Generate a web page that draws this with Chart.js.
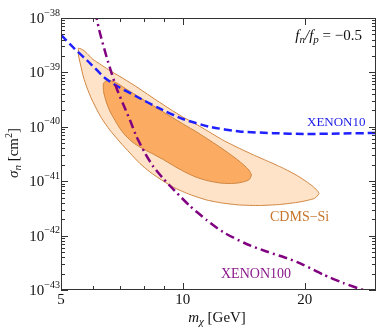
<!DOCTYPE html>
<html>
<head>
<meta charset="utf-8">
<script src="https://cdn.jsdelivr.net/npm/chart.js@4.4.1/dist/chart.umd.min.js"></script>
<style>
  html, body { margin: 0; padding: 0; background: #fff; }
</style>
</head>
<body>
<canvas id="chart" width="379" height="331"></canvas>
<script>
// === DATOS (m en GeV, sigma en cm^2) ===
const xenon10Mass = [5.0, 5.41, 5.90, 6.42, 6.91, 7.70, 8.68, 10.0, 11.66, 13.8, 16.7, 20.2, 24.4, 30.0];
const xenon10Sigma = [4.87e-39, 2.69e-39, 1.47e-39, 7.89e-40, 5.50e-40, 3.57e-40, 2.25e-40, 1.39e-40,
  1.00e-40, 8.20e-41, 7.65e-41, 7.38e-41, 7.53e-41, 7.69e-41];

const xenon100Mass = [6.07, 6.12, 6.24, 6.48, 6.67, 6.86, 7.11, 7.40, 7.69, 8.06, 8.45, 8.94, 9.56,
  10.41, 11.44, 12.57, 14.36, 16.09, 18.03, 19.77, 22.19, 24.86, 28.12, 30.63];
const xenon100Sigma = [1.32e-38, 1.0e-38, 5.30e-39, 1.92e-39, 9.63e-40, 5.10e-40, 2.68e-40, 1.33e-40,
  6.49e-41, 3.30e-41, 1.86e-41, 1.12e-41, 6.60e-42, 3.50e-42, 1.94e-42, 1.16e-42, 7.01e-43,
  5.10e-43, 3.87e-43, 2.94e-43, 1.93e-43, 1.35e-43, 9.79e-44, 7.92e-44];

// contorno exterior CDMS-Si (borde superior y vuelta por el inferior)
const cdmsOuterMass = [5.52, 5.57, 5.67, 5.80, 5.96, 6.13, 6.35, 6.60, 6.99, 7.53, 8.06, 8.63, 9.29,
  10.0, 10.71, 11.46, 12.55, 13.82, 15.05, 16.39, 17.85, 19.22, 20.34, 21.17, 21.69,
  21.17, 19.44, 17.35, 15.49, 13.82, 12.48, 11.46, 10.41, 9.56, 8.93, 8.29, 7.83, 7.40, 6.99,
  6.60, 6.30, 6.12, 5.95, 5.80, 5.68, 5.59, 5.52, 5.52];
const cdmsOuterSigma = [2.77e-39, 2.75e-39, 2.58e-39, 2.23e-39, 1.80e-39, 1.55e-39, 1.31e-39, 1.08e-39,
  8.41e-40, 5.99e-40, 4.27e-40, 3.04e-40, 2.12e-40, 1.51e-40, 1.15e-40, 8.55e-41, 5.72e-41,
  3.99e-41, 2.97e-41, 2.25e-41, 1.68e-41, 1.25e-41, 9.47e-42, 7.50e-42, 5.99e-42,
  4.85e-42, 4.15e-42, 3.73e-42, 3.58e-42, 3.65e-42, 3.98e-42, 4.51e-42, 5.69e-42, 7.50e-42,
  1.01e-41, 1.48e-41, 2.12e-41, 3.30e-41, 5.26e-41, 8.74e-41, 1.43e-40, 2.12e-40, 3.24e-40,
  5.17e-40, 8.23e-40, 1.37e-39, 2.09e-39, 2.77e-39];

// contorno interior CDMS-Si
const cdmsInnerMass = [6.36, 6.42, 6.53, 6.68, 6.87, 7.15, 7.48, 7.83, 8.20, 8.63, 9.03, 9.56, 10.11,
  10.77, 11.46, 12.34, 13.06, 13.67, 14.14, 14.55, 14.76, 14.59, 14.22, 13.67, 13.06, 12.34,
  11.46, 10.77, 10.11, 9.56, 9.03, 8.53, 8.20, 7.83, 7.53, 7.23, 6.99, 6.80, 6.60, 6.47, 6.38,
  6.36, 6.36];
const cdmsInnerSigma = [6.12e-40, 6.80e-40, 7.10e-40, 6.95e-40, 6.39e-40, 5.28e-40, 4.27e-40, 3.46e-40,
  2.80e-40, 2.22e-40, 1.79e-40, 1.39e-40, 1.08e-40, 8.20e-41, 6.10e-41, 4.25e-41, 3.16e-41,
  2.45e-41, 1.99e-41, 1.61e-41, 1.30e-41, 1.07e-41, 9.87e-42, 9.27e-42, 9.07e-42, 9.27e-42,
  1.03e-41, 1.19e-41, 1.48e-41, 1.86e-41, 2.40e-41, 3.03e-41, 3.52e-41, 4.25e-41, 5.15e-41,
  6.78e-41, 9.31e-41, 1.31e-40, 1.95e-40, 2.86e-40, 4.18e-40, 5.17e-40, 6.12e-40];

const xTickValues = [5, 10, 20];
const xMinorTicks = [6, 7, 8, 9];
const yTickExponents = [-38, -39, -40, -41, -42, -43];

const SERIF = '"Liberation Serif", "DejaVu Serif", serif';

const pts = (m, s) => m.map((v, i) => ({ x: v, y: s[i] }));

// === MARCO, TICKS Y TEXTOS ===
const framePlugin = {
  id: "frame",
  afterDraw(chart) {
    const { ctx, chartArea: a, scales: { x, y } } = chart;
    ctx.save();
    ctx.strokeStyle = "#333";
    ctx.lineWidth = 1;
    ctx.strokeRect(a.left + 0.5, a.top + 0.5, a.right - a.left - 1, a.bottom - a.top - 1);

    const line = (x1, y1, x2, y2) => {
      ctx.beginPath(); ctx.moveTo(x1, y1); ctx.lineTo(x2, y2); ctx.stroke();
    };
    const xTick = (v, len) => {
      const px = Math.round(x.getPixelForValue(v)) + 0.5;
      line(px, a.bottom, px, a.bottom - len);
      line(px, a.top, px, a.top + len);
    };
    const yTick = (v, len) => {
      const py = Math.round(y.getPixelForValue(v)) + 0.5;
      line(a.left, py, a.left + len, py);
      line(a.right, py, a.right - len, py);
    };
    xTickValues.forEach((v) => xTick(v, 7));
    xMinorTicks.forEach((v) => xTick(v, 4));
    yTickExponents.forEach((e) => yTick(Math.pow(10, e), 7));
    yTickExponents.slice(1).forEach((e) => {
      for (let k = 2; k <= 9; k++) yTick(k * Math.pow(10, e), 4);
    });

    ctx.fillStyle = "#111";
    // etiquetas eje y
    yTickExponents.forEach((e) => {
      const py = y.getPixelForValue(Math.pow(10, e));
      const expText = "\u2212" + Math.abs(e);
      ctx.textAlign = "right";
      ctx.textBaseline = "middle";
      ctx.font = "10px " + SERIF;
      const ew = ctx.measureText(expText).width;
      ctx.fillText(expText, 60, py - 5);
      ctx.font = "15px " + SERIF;
      ctx.fillText("10", 60 - ew, py + 1);
    });
    // etiquetas eje x
    ctx.textAlign = "center";
    ctx.font = "15px " + SERIF;
    xTickValues.forEach((v) => ctx.fillText(String(v), x.getPixelForValue(v), 300));

    // texto con partes (fuente, texto, dy)
    const runs = (parts, x0, y0, color) => {
      ctx.textAlign = "left";
      ctx.textBaseline = "alphabetic";
      ctx.fillStyle = color || "#111";
      let cx = x0;
      parts.forEach(([font, t, dy]) => {
        ctx.font = font + " " + SERIF;
        ctx.fillText(t, cx, y0 + (dy || 0));
        cx += ctx.measureText(t).width;
      });
    };
    const width = (parts) => parts.reduce((w, [font, t]) => {
      ctx.font = font + " " + SERIF; return w + ctx.measureText(t).width;
    }, 0);

    // titulo eje x
    const xTitle = [["italic 15px", "m"], ["italic 11px", "\u03c7", 3], ["15px", " [GeV]"]];
    runs(xTitle, 217 - width(xTitle) / 2, 322);

    // titulo eje y
    const yTitle = [["italic 15px", "\u03c3"], ["italic 11px", "n", 3], ["15px", " [cm"], ["10px", "2", -6], ["15px", "]"]];
    ctx.save();
    ctx.translate(18, 153);
    ctx.rotate(-Math.PI / 2);
    runs(yTitle, -width(yTitle) / 2, 0);
    ctx.restore();

    // f_n / f_p
    const ratio = [["italic 15px", "f"], ["italic 11px", "n", 3], ["italic 15px", "/"], ["italic 15px", "f"],
      ["italic 11px", "p", 3], ["15px", " = \u22120.5"]];
    runs(ratio, 362 - width(ratio), 40);

    runs([["13px", "XENON10"]], 307, 126, "#1a1ae6");
    runs([["14px", "CDMS\u2212Si"]], 270, 221, "#c7752c");
    runs([["14px", "XENON100"]], 221, 278, "#8b1a8b");
    ctx.restore();
  },
};

new Chart(document.getElementById("chart"), {
  type: "scatter",
  data: {
    datasets: [
      {
        label: "XENON100",
        data: pts(xenon100Mass, xenon100Sigma),
        showLine: true, borderColor: "#800080", borderWidth: 2.5,
        borderDash: [9, 4, 2, 4], pointRadius: 0, tension: 0.2, clip: 0, order: 0,
      },
      {
        label: "XENON10",
        data: pts(xenon10Mass, xenon10Sigma),
        showLine: true, borderColor: "#1f1fff", borderWidth: 2.5,
        borderDash: [8, 4], pointRadius: 0, tension: 0.2, clip: 0, order: 1,
      },
      {
        label: "CDMS-Si interior",
        data: pts(cdmsInnerMass, cdmsInnerSigma),
        showLine: true, borderColor: "#cf8540", backgroundColor: "#fbac62", borderWidth: 1,
        fill: "shape", pointRadius: 0, tension: 0.2, order: 2,
      },
      {
        label: "CDMS-Si exterior",
        data: pts(cdmsOuterMass, cdmsOuterSigma),
        showLine: true, borderColor: "#cf8540", backgroundColor: "#fee3c8", borderWidth: 1,
        fill: "shape", pointRadius: 0, tension: 0.2, order: 3,
      },
    ],
  },
  options: {
    responsive: false,
    animation: false,
    layout: { padding: { left: 61, top: 18, right: 3, bottom: 41 } },
    plugins: { legend: { display: false }, tooltip: { enabled: false } },
    scales: {
      x: { type: "logarithmic", min: 5, max: 30, display: false },
      y: { type: "logarithmic", min: 1e-43, max: 1e-38, display: false },
    },
  },
  plugins: [framePlugin],
});
</script>
</body>
</html>
